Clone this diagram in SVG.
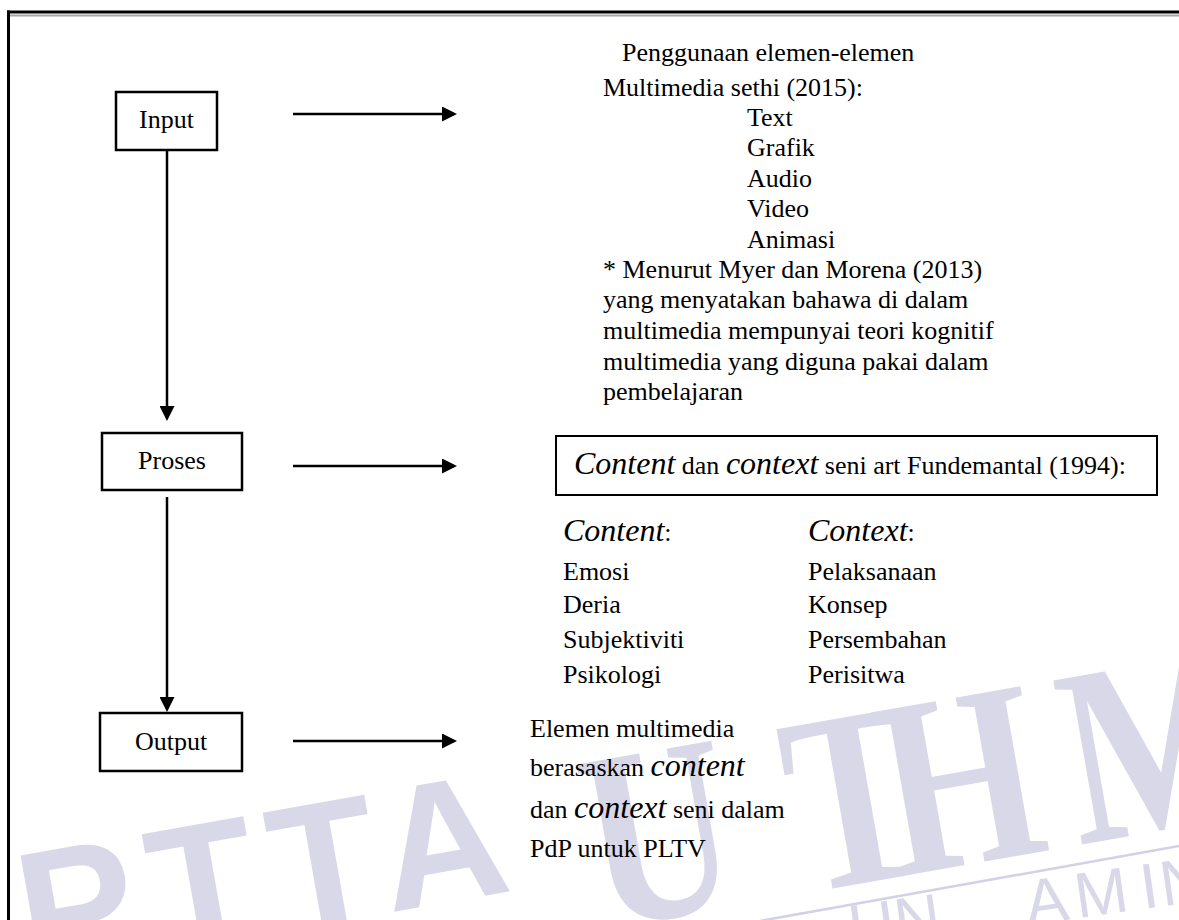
<svg xmlns="http://www.w3.org/2000/svg" width="1179" height="920" viewBox="0 0 1179 920">
<defs>
<style>
text{font-family:"Liberation Serif","Times New Roman",serif;font-size:26px;fill:#000}
.it{font-style:italic;font-size:32px}
.lbl{text-anchor:middle}
.box{fill:#fff;stroke:#000;stroke-width:2.5}
.cbox{fill:none;stroke:#000;stroke-width:2}
.ln{stroke:#000;stroke-width:2.5;fill:none}
.wm{fill:#d9d8e8}
.wms{font-family:"Liberation Sans",Arial,sans-serif}
</style>
<marker id="ah" viewBox="0 0 10 10" refX="8" refY="5" markerWidth="6" markerHeight="6" orient="auto" markerUnits="strokeWidth">
<path d="M0,0 L10,5 L0,10 z" fill="#000"/>
</marker>
</defs>
<rect width="1179" height="920" fill="#fff"/>
<g id="watermark">
<text class="wm wms" transform="rotate(-10 30 976)" x="30" y="976" style="font-size:175px;font-weight:bold;letter-spacing:16px">PTTA</text>
<g transform="rotate(-10 897 877)">
<text class="wm" transform="translate(0 877) scale(0.8 1)" x="745 1001 1121 1352" y="0" style="font-size:254px;font-weight:bold">UTHM</text>
</g>
<line x1="760" y1="921" x2="1179" y2="846" stroke="#d2d1e6" stroke-width="2.5"/>
<text class="wm wms" transform="rotate(-8 852 950)" x="852 898 930 1030 1080 1146 1166" y="950" style="font-size:64px">UN AMIN</text>
</g>
<g id="frame">
<line x1="7" y1="12" x2="1179" y2="12" stroke="#000" stroke-width="3"/>
<line x1="10" y1="15.5" x2="1179" y2="15.5" stroke="#a6a6a6" stroke-width="2"/>
<line x1="8.5" y1="10.5" x2="8.5" y2="920" stroke="#000" stroke-width="3"/>
</g>
<g id="connectors">
<line class="ln" x1="293" y1="114" x2="454" y2="114" marker-end="url(#ah)"/>
<line class="ln" x1="167" y1="151" x2="167" y2="418" marker-end="url(#ah)"/>
<line class="ln" x1="293" y1="466" x2="454" y2="466" marker-end="url(#ah)"/>
<line class="ln" x1="167" y1="497" x2="167" y2="709" marker-end="url(#ah)"/>
<line class="ln" x1="293" y1="741" x2="454" y2="741" marker-end="url(#ah)"/>
</g>
<g id="node-input">
<rect class="box" x="116" y="92" width="101" height="58"/>
<text class="lbl" x="166.5" y="128">Input</text>
</g>
<g id="node-proses">
<rect class="box" x="102" y="433" width="140" height="57"/>
<text class="lbl" x="172" y="469">Proses</text>
</g>
<g id="node-output">
<rect class="box" x="100" y="713" width="142" height="58"/>
<text class="lbl" x="171" y="750">Output</text>
</g>
<g id="node-input-detail">
<text x="622" y="61">Penggunaan elemen-elemen</text>
<text x="603" y="96">Multimedia sethi (2015):</text>
<text x="747" y="126">Text</text>
<text x="747" y="156">Grafik</text>
<text x="747" y="187">Audio</text>
<text x="747" y="217">Video</text>
<text x="747" y="248">Animasi</text>
<text x="603" y="278">* Menurut Myer dan Morena (2013)</text>
<text x="603" y="308">yang menyatakan bahawa di dalam</text>
<text x="603" y="339">multimedia mempunyai teori kognitif</text>
<text x="603" y="370">multimedia yang diguna pakai dalam</text>
<text x="603" y="400">pembelajaran</text>
</g>
<g id="node-proses-detail">
<rect class="cbox" x="556" y="436" width="601" height="59"/>
<text x="574" y="474"><tspan class="it">Content</tspan> dan <tspan class="it">context</tspan> seni art Fundemantal (1994):</text>
<text x="563" y="541"><tspan class="it">Content</tspan>:</text>
<text x="808" y="541"><tspan class="it">Context</tspan>:</text>
<text x="563" y="580">Emosi</text>
<text x="563" y="613">Deria</text>
<text x="563" y="648">Subjektiviti</text>
<text x="563" y="683">Psikologi</text>
<text x="808" y="580">Pelaksanaan</text>
<text x="808" y="613">Konsep</text>
<text x="808" y="648">Persembahan</text>
<text x="808" y="683">Perisitwa</text>
</g>
<g id="node-output-detail">
<text x="530" y="737">Elemen multimedia</text>
<text x="530" y="776">berasaskan <tspan class="it">content</tspan></text>
<text x="530" y="818">dan <tspan class="it">context</tspan> seni dalam</text>
<text x="530" y="857">PdP untuk PLTV</text>
</g>
</svg>
